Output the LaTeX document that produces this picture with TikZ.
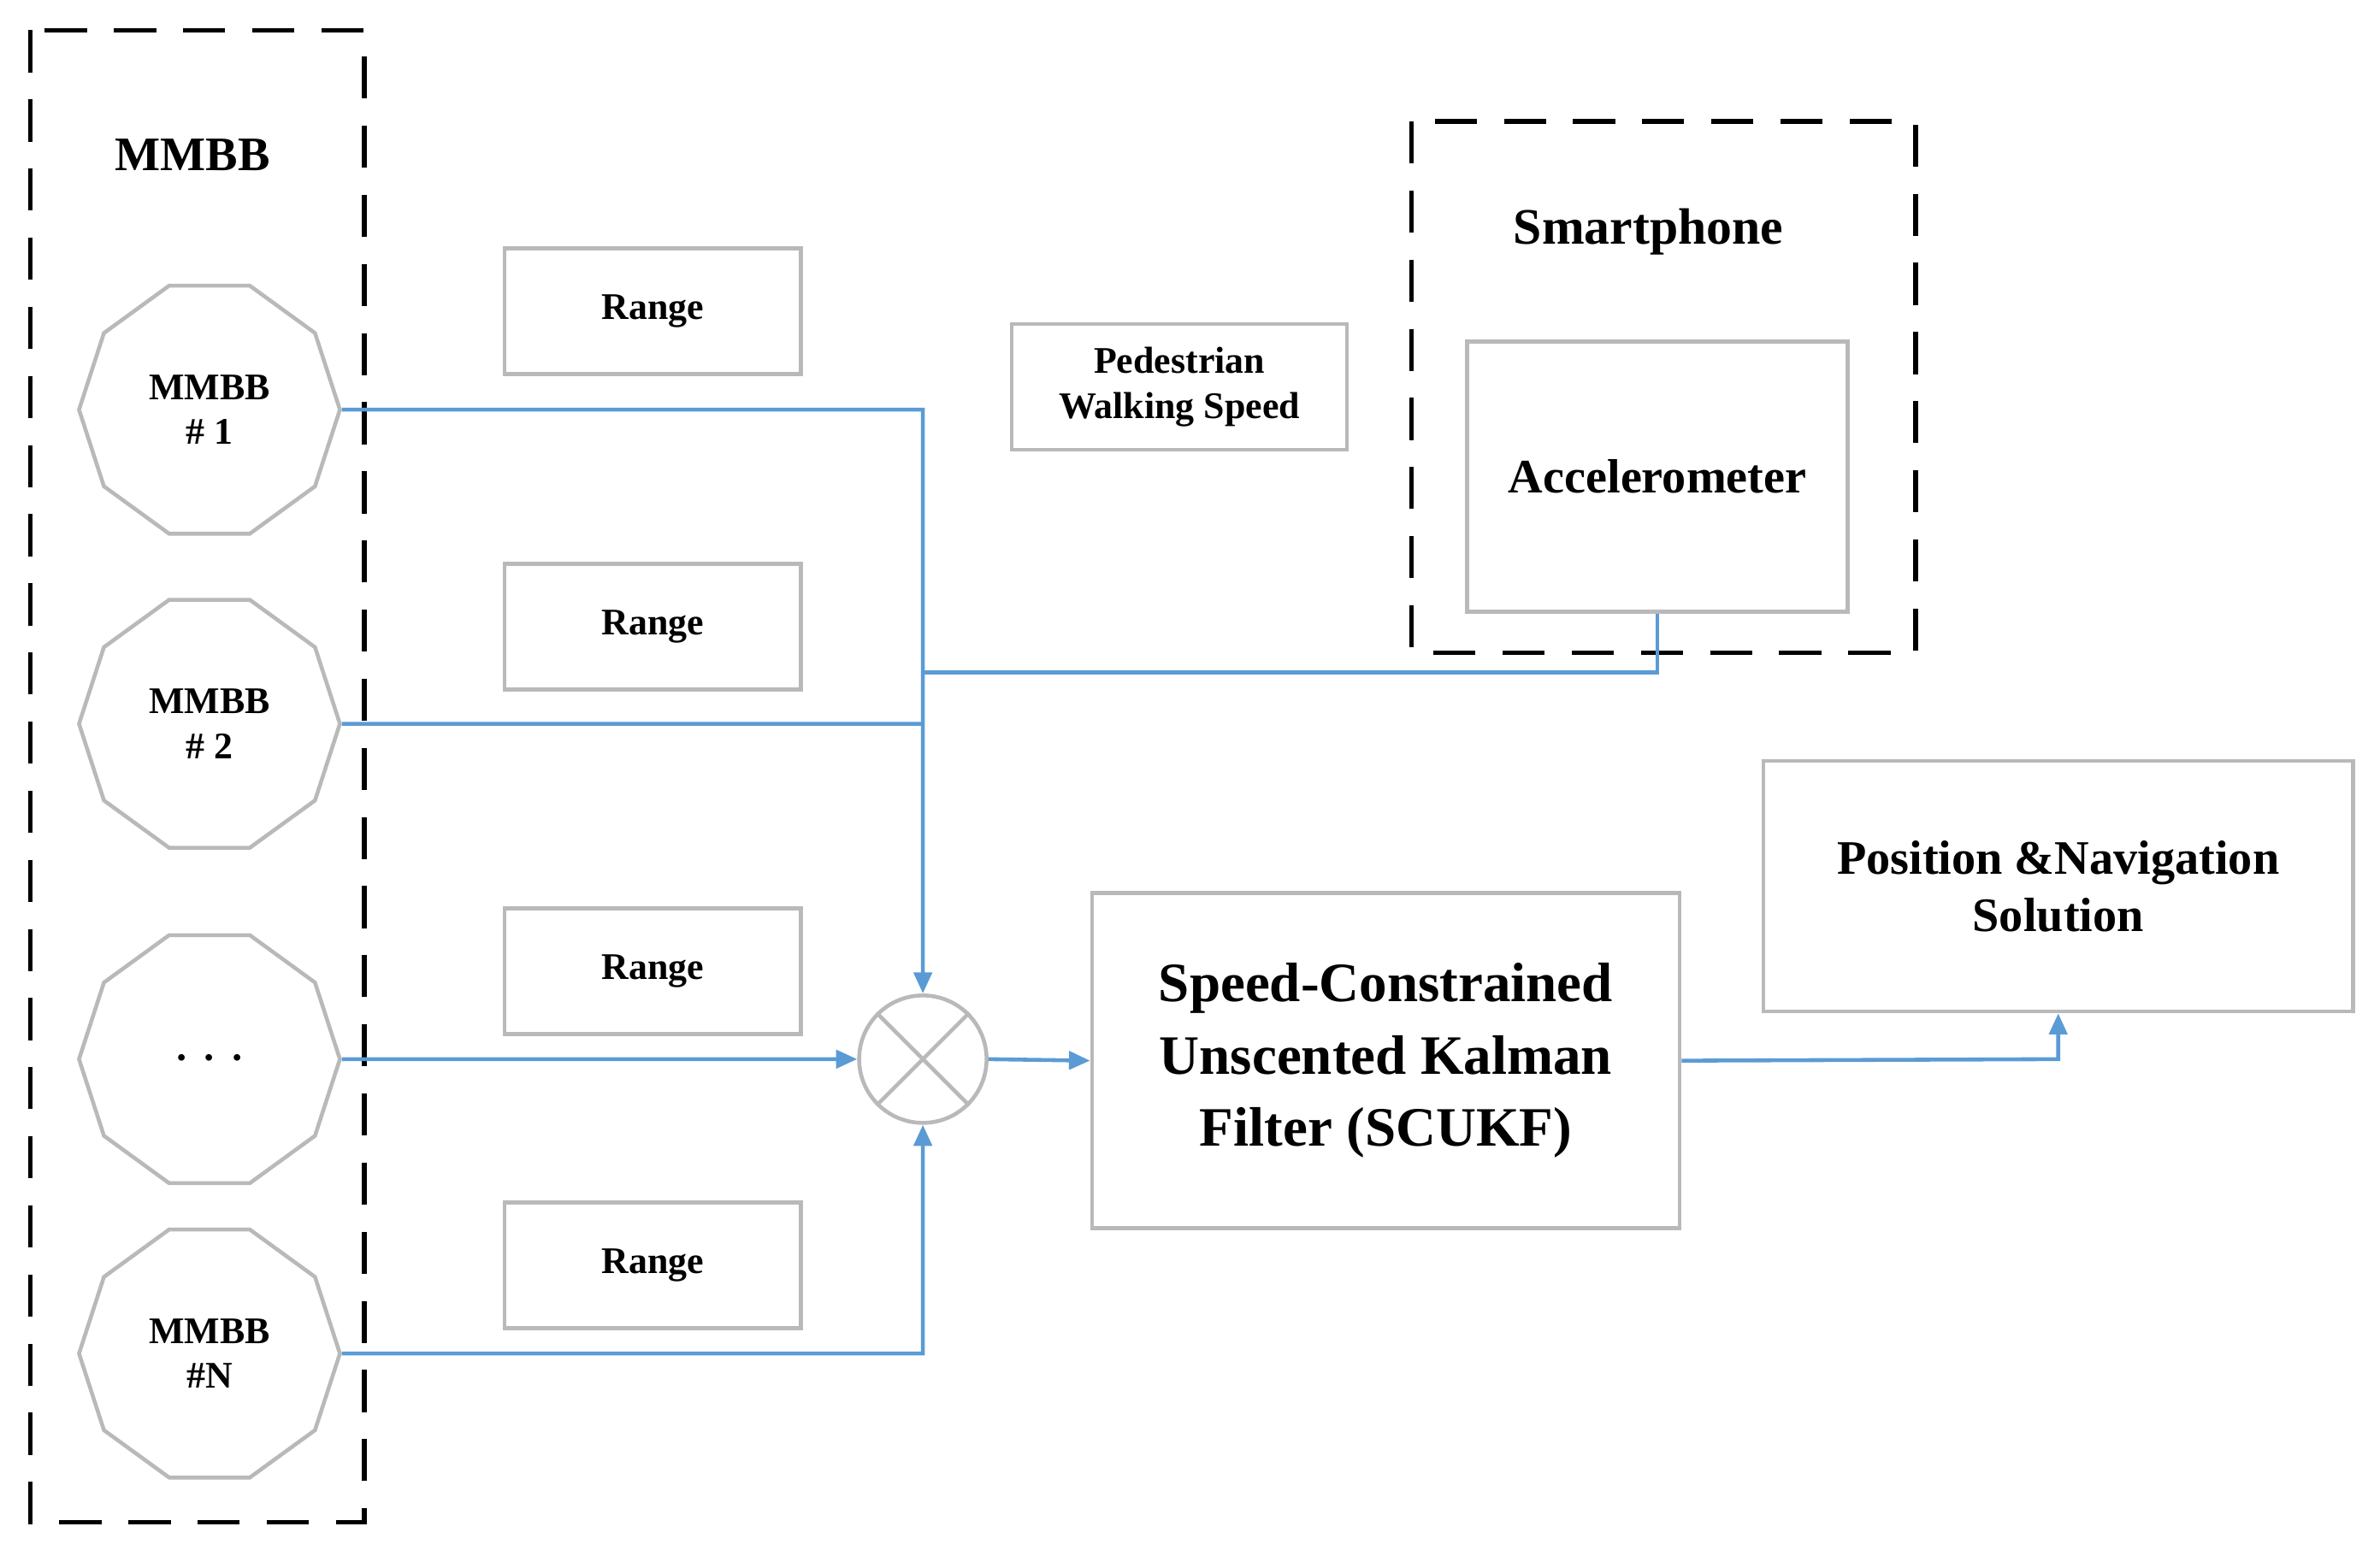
\documentclass[tikz,border=0pt]{standalone}
\usepackage{fontspec}
\setmainfont{Liberation Serif}
\usetikzlibrary{shapes.geometric,arrows.meta}
\definecolor{bl}{HTML}{5B9BD5}
\begin{document}
\begin{tikzpicture}[x=0.017749cm,y=-0.017749cm,
  box/.style={draw=gray!55,line width=1.3pt,font=\bfseries},
  dsh/.style={draw=black,line width=1.5pt,dash pattern=on 14pt off 9pt},
  dec/.style={draw=gray!55,line width=1.3pt,regular polygon,regular polygon sides=10,minimum size=172\pgflinewidth*0+3.05cm,inner sep=0pt,align=center,font=\fontsize{12.5}{15}\selectfont\bfseries},
  con/.style={draw=bl,line width=1.3pt},
  arr/.style={con,-{Triangle[length=7pt,width=6pt]}}]
\useasboundingbox (0,0) rectangle (1568,1025);
\draw[dsh] (20,20) rectangle (240,1003);
\node[font=\fontsize{16}{19}\selectfont\bfseries] (lmm) at (127,102) {MMBB};
\node[dec] (m1) at (138,270) {MMBB\\\# 1};
\node[dec] (m2) at (138,477) {MMBB\\\# 2};
\node[dec,font=\fontsize{20}{20}\selectfont\bfseries] (m3) at (138,698) {$\cdots$};
\node[dec] (mn) at (138,892) {MMBB\\\#N};
\foreach \y/\n in {205/r1,413/r2,640/r3,834/r4}
  \node[box,minimum width=195\pgflinewidth*0+3.46cm,minimum height=1.47cm,font=\fontsize{12.5}{15}\selectfont\bfseries] (\n) at (430,\y) {Range};
\node[box,minimum width=3.92cm,minimum height=1.47cm,align=center,font=\fontsize{12.5}{15}\selectfont\bfseries] (ped) at (777,255) {Pedestrian\\Walking Speed};
\draw[dsh] (930,80) rectangle (1262,430);
\node[font=\fontsize{17}{20}\selectfont\bfseries] (sp) at (1086,153) {Smartphone};
\node[box,minimum width=4.45cm,minimum height=3.16cm,font=\fontsize{16}{19}\selectfont\bfseries] (acc) at (1092,314) {Accelerometer};
\node[draw=gray!55,line width=1.3pt,circle,minimum size=1.49cm,inner sep=0pt] (mul) at (608,698) {};
\draw[gray!55,line width=1.3pt] (mul.north east)--(mul.south west) (mul.north west)--(mul.south east);
\node[box,minimum width=6.87cm,minimum height=3.92cm,align=center,font=\fontsize{18.5}{24}\selectfont\bfseries] (kf) at (913,699) {Speed-Constrained\\Unscented Kalman\\Filter (SCUKF)};
\node[box,minimum width=6.89cm,minimum height=2.93cm,align=center,font=\fontsize{16}{19}\selectfont\bfseries] (pos) at (1356,584) {Position \&Navigation\\Solution};
\coordinate (j1) at (608,270);
\draw[arr] (m1.east) -- (j1) -- (mul.north);
\draw[con] (m2.east) -- (608,477);
\draw[con] (acc.south) -- (1092,443) -- (608,443);
\draw[arr] (m3.east) -- (mul.west);
\draw[arr] (mn.east) -- (608,892) -- (mul.south);
\draw[arr] (mul.east) -- (kf.west);
\draw[arr] (kf.east) -- (1356,698) -- (pos.south);
\end{tikzpicture}
\end{document}
